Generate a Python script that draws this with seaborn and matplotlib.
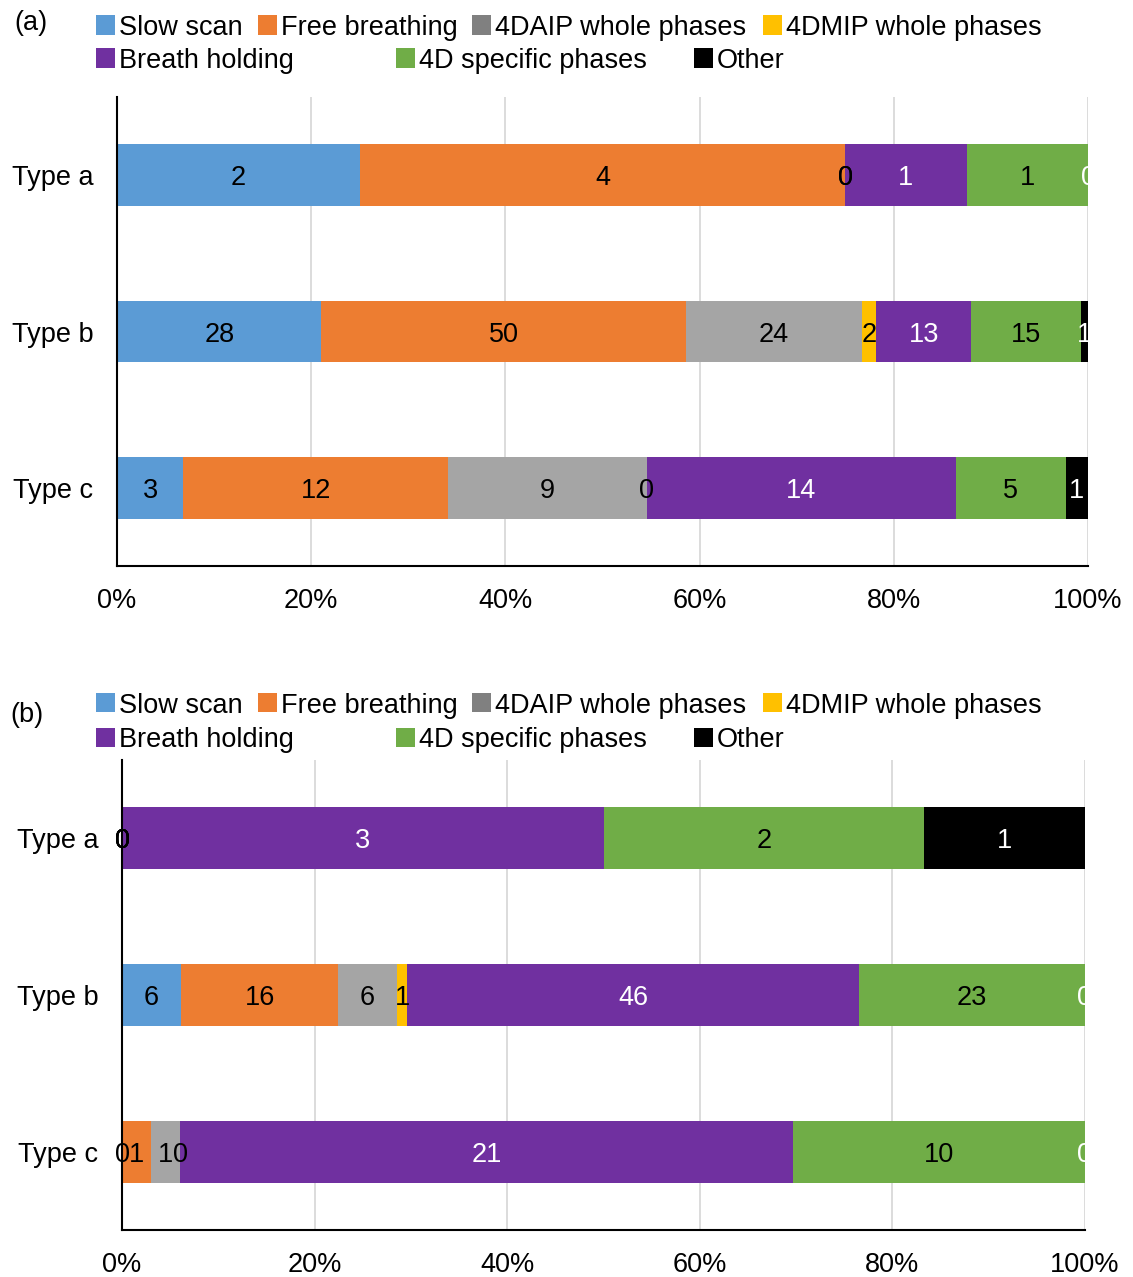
import numpy as np
import pandas as pd
import matplotlib
matplotlib.use("Agg")
import matplotlib.pyplot as plt
from matplotlib.patches import Rectangle
from matplotlib.ticker import PercentFormatter
import seaborn as sns

sns.set_theme(style="white")
plt.rcParams["font.family"] = ["Liberation Sans", "DejaVu Sans"]

# Categories and series
types = ["Type a", "Type b", "Type c"]
series = ["Slow scan", "Free breathing", "4DAIP whole phases", "4DMIP whole phases",
          "Breath holding", "4D specific phases", "Other"]
colors = ["#5B9BD5", "#ED7D31", "#A5A5A5", "#FFC000", "#7030A0", "#70AD47", "#000000"]
legend_colors = ["#5B9BD5", "#ED7D31", "#808080", "#FFC000", "#7030A0", "#70AD47", "#000000"]
label_colors = ["black", "black", "black", "black", "white", "black", "white"]

# Counts per type for panel (a)
a_slow = [2, 28, 3]
a_free = [4, 50, 12]
a_aip = [0, 24, 9]
a_mip = [0, 2, 0]
a_bh = [1, 13, 14]
a_spec = [1, 15, 5]
a_other = [0, 1, 1]

# Counts per type for panel (b)
b_slow = [0, 6, 0]
b_free = [0, 16, 1]
b_aip = [0, 6, 1]
b_mip = [0, 1, 0]
b_bh = [3, 46, 21]
b_spec = [2, 23, 10]
b_other = [1, 0, 0]

panel_a = [a_slow, a_free, a_aip, a_mip, a_bh, a_spec, a_other]
panel_b = [b_slow, b_free, b_aip, b_mip, b_bh, b_spec, b_other]

W, H = 1133, 1277
FS = 19.5
fig = plt.figure(figsize=(W / 100, H / 100), dpi=100)


def fx(x):
    return x / W


def fy(y):
    return 1 - y / H


def draw_panel(rect, counts):
    ax = fig.add_axes(rect)
    arr = np.array(counts, dtype=float)  # series x types
    frac = arr / arr.sum(axis=0)
    cum = np.cumsum(frac, axis=0)
    # stacked bars: draw cumulative totals from last series to first
    for i in range(len(series) - 1, -1, -1):
        df = pd.DataFrame({"type": types, "cum": cum[i]})
        sns.barplot(data=df, x="cum", y="type", orient="h", color=colors[i],
                    saturation=1, width=0.395, ax=ax, linewidth=0, zorder=2)
    ax.set_xlim(0, 1)
    ax.set_ylim(2.5, -0.5)
    ax.set_xlabel("")
    ax.set_ylabel("")
    ax.xaxis.set_major_formatter(PercentFormatter(1.0, decimals=0))
    ax.set_xticks(np.arange(0, 1.01, 0.2))
    ax.grid(axis="x", color="#D9D9D9", linewidth=1.3, zorder=0)
    ax.set_axisbelow(True)
    for s in ["top", "right"]:
        ax.spines[s].set_visible(False)
    for s in ["left", "bottom"]:
        ax.spines[s].set_color("black")
        ax.spines[s].set_linewidth(1.5)
        ax.spines[s].set_zorder(5)
    ax.tick_params(axis="x", length=0, pad=16, labelsize=FS, colors="black")
    ax.tick_params(axis="y", length=0, pad=17, labelsize=FS, colors="black")
    # value labels centred on each segment, clipped at the right edge
    clip = Rectangle((-0.1, -1), 1.1, 4, transform=ax.transData,
                     facecolor="none", edgecolor="none")
    for i in range(len(series)):
        for j in range(len(types)):
            xc = cum[i, j] - frac[i, j] / 2
            t = ax.text(xc, j, f"{int(arr[i, j])}", ha="center", va="center_baseline",
                        fontsize=FS, color=label_colors[i], zorder=6)
            t.set_clip_path(clip)
    return ax


def draw_legend(y1, y2):
    rows = [
        [(96, 0), (258, 1), (472, 2), (763, 3)],
        [(96, 4), (396, 5), (694, 6)],
    ]
    for y, row in zip([y1, y2], rows):
        for x, k in row:
            sq = 19
            fig.patches.append(Rectangle((fx(x), fy(y + sq / 2)), sq / W, sq / H,
                                         transform=fig.transFigure,
                                         facecolor=legend_colors[k], edgecolor="none"))
            fig.text(fx(x + sq + 4), fy(y), series[k], ha="left", va="center_baseline",
                     fontsize=FS, color="black")


draw_panel([fx(117), fy(566), fx(1088) - fx(117), fy(97) - fy(566)], panel_a)
draw_panel([fx(122), fy(1230), fx(1085) - fx(122), fy(760) - fy(1230)], panel_b)

draw_legend(25, 58)
draw_legend(703, 737)
fig.text(fx(14), fy(20), "(a)", ha="left", va="center_baseline", fontsize=FS, color="black")
fig.text(fx(10), fy(712), "(b)", ha="left", va="center_baseline", fontsize=FS, color="black")

fig.savefig("out.png", dpi=100, facecolor="white")
